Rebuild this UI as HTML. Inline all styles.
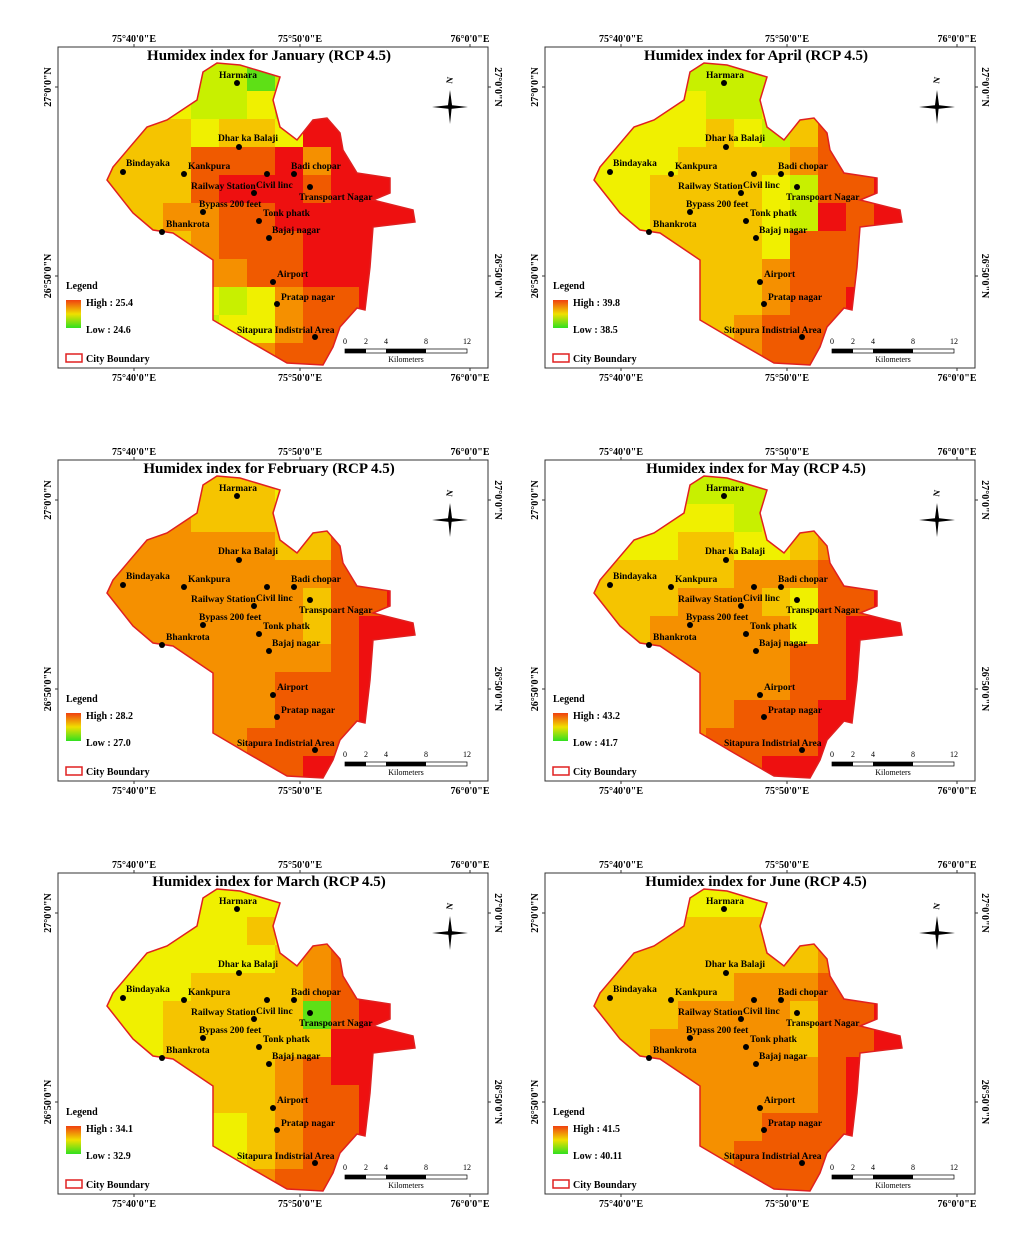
<!DOCTYPE html>
<html><head><meta charset="utf-8"><style>
body{margin:0;background:#fff;}
svg text{font-family:"Liberation Serif",serif;font-weight:bold;fill:#000;}
</style></head><body>
<svg id="fig" width="1019" height="1228" viewBox="0 0 1019 1228" xmlns="http://www.w3.org/2000/svg">
<defs>
<clipPath id="cityclip"><polygon id="bpoly" points=""/></clipPath>
<linearGradient id="leg" x1="0" y1="0" x2="0" y2="1">
<stop offset="0" stop-color="#f04010"/><stop offset="0.5" stop-color="#f0e000"/><stop offset="1" stop-color="#30e020"/></linearGradient>
</defs>
</svg>
<script>
const months=["January","April","February","May","March","June"];
const highs=["25.4","39.8","28.2","43.2","34.1","41.5"];
const lows=["24.6","38.5","27.0","41.7","32.9","40.11"];
const grids=[
["22211011222","22211211466","33323326666","33355564666","33356665666","33445566666","33345556666","33344556666","22121245566","22112245555","22222455555"],
["22211111222","22221121555","22223213556","22233334556","22333321556","22333321656","33333325556","33333345556","33333345566","33333455555","33333455555"],
["33333322444","44433333555","44444433555","44444444556","44444443556","44444443566","44444444566","44444455566","44444455566","44444555566","44444556666"],
["22211111222","22222122444","22233223455","33333444556","33344432556","33444442566","44444445566","44444445566","44444555666","44445555666","44445566666"],
["22222222222","22222322455","22222234566","22233334566","22333330566","22333333666","33333345666","33333345566","22222345566","22222345555","22222455555"],
["22222222222","33333333444","33333333455","33333444555","33344443556","33444443556","33444444566","34444444566","44444455566","44444555566","44444555566"]];
const palette=["#5ee016","#c8f000","#f0f000","#f5c400","#f59000","#f05a00","#ee1010"];
const boundary=[[203,72],[217,63],[240,65],[280,77],[273,100],[280,127],[297,140],[313,120],[327,118],[340,133],[343,150],[357,173],[390,178],[390,193],[373,200],[413,210],[415,222],[373,227],[370,267],[365,310],[357,308],[340,327],[333,347],[323,365],[287,363],[247,340],[213,320],[213,260],[173,233],[153,230],[133,213],[107,180],[113,167],[147,127],[167,120],[197,100]];
const places=[["Harmara",237,83,219,78],["Dhar ka Balaji",239,147,218,141],["Bindayaka",123,172,126,166],["Kankpura",184,174,188,169],["Railway Station",254,193,191,189],["Civil linc",267,174,256,188],["Badi chopar",294,174,291,169],["Transpoart Nagar",310,187,299,200],["Bypass 200 feet",203,212,199,207],["Tonk phatk",259,221,263,216],["Bhankrota",162,232,166,227],["Bajaj nagar",269,238,272,233],["Airport",273,282,277,277],["Pratap nagar",277,304,281,300],["Sitapura Indistrial Area",315,337,237,333]];
const xticks=["75°40'0\"E","75°50'0\"E","76°0'0\"E"];
const yticks=["27°0'0\"N","26°50'0\"N"];
const NS="http://www.w3.org/2000/svg";
const svg=document.getElementById('fig');
document.getElementById('bpoly').setAttribute('points',boundary.map(p=>p.join(',')).join(' '));
function mk(t,a,parent,txt){const e=document.createElementNS(NS,t);for(const k in a)e.setAttribute(k,a[k]);if(txt!==undefined)e.textContent=txt;parent.appendChild(e);return e;}
const xt=[134,300,470], yt=[87,276];
months.forEach((m,i)=>{
 const dx=(i%2)*487, dy=Math.floor(i/2)*413;
 const g=mk('g',{transform:`translate(${dx},${dy})`},svg);
 
 
 const fr=mk('rect',{x:58,y:47,width:430,height:321,fill:'#fff',stroke:'#333','stroke-width':1},g);
 
 xticks.forEach((t,k)=>{
  const a=mk('text',{x:xt[k],y:42,'font-size':10,'text-anchor':'middle'},g,t);
  
  const b=mk('text',{x:xt[k],y:381,'font-size':10,'text-anchor':'middle'},g,t);
  
  mk('line',{x1:xt[k],x2:xt[k],y1:44,y2:47,stroke:'#333'},g);
  mk('line',{x1:xt[k],x2:xt[k],y1:368,y2:371,stroke:'#333'},g);
 });
 yticks.forEach((t,k)=>{
  const a=mk('text',{x:0,y:0,'font-size':10,'text-anchor':'middle',transform:`translate(51,${yt[k]}) rotate(-90)`},g,t);
  
  const b=mk('text',{x:0,y:0,'font-size':10,'text-anchor':'middle',transform:`translate(495,${yt[k]}) rotate(90)`},g,t);
  
  mk('line',{x1:55,x2:58,y1:yt[k],y2:yt[k],stroke:'#333'},g);
  mk('line',{x1:488,x2:491,y1:yt[k],y2:yt[k],stroke:'#333'},g);
 });
 const ti=mk('text',{x:269,y:60,'font-size':15,'text-anchor':'middle'},g,`Humidex index for ${m} (RCP 4.5)`);
 
 const cg=mk('g',{'clip-path':'url(#cityclip)'},g);
 
 grids[i].forEach((row,r)=>{[...row].forEach((c,col)=>{
  const cell=mk('rect',{x:107+col*28,y:63+r*28,width:28.5,height:28.5,fill:palette[+c]},cg);
  
 });});
 const bd=mk('polygon',{points:boundary.map(p=>p.join(',')).join(' '),fill:'none',stroke:'#e02020','stroke-width':1.5},g);
 
 places.forEach(p=>{
  const d=mk('circle',{cx:p[1],cy:p[2],r:3,fill:'#000'},g);
  
  const t=mk('text',{x:p[3],y:p[4],'font-size':9.5},g,p[0]);
  
 });
 const na=mk('g',{},g);
 mk('polygon',{points:'450,90 452,105 450,124 448,105',fill:'#000'},na);
 mk('polygon',{points:'432,107 450,105 468,107 450,109',fill:'#000'},na);
 mk('text',{x:452,y:84,'font-size':9,transform:'rotate(-80 452 84)'},na,'N');
 const lg=mk('text',{x:66,y:289,'font-size':10},g,'Legend');
 const lb=mk('rect',{x:66,y:300,width:15,height:28,fill:'url(#leg)'},g);
 const lh=mk('text',{x:86,y:306,'font-size':10},g,'High : '+highs[i]);
 const ll=mk('text',{x:86,y:333,'font-size':10},g,'Low : '+lows[i]);
 const cb=mk('rect',{x:66,y:354,width:16,height:8,fill:'#fff',stroke:'#e02020','stroke-width':1.5},g);
 const ct=mk('text',{x:86,y:362,'font-size':10},g,'City Boundary');
 const sb=mk('g',{},g);
 [["0",345],["2",366],["4",386],["8",426],["12",467]].forEach(s=>mk('text',{x:s[1],y:344,'font-size':8,'text-anchor':'middle',style:'font-weight:normal'},sb,s[0]));
 mk('rect',{x:345,y:349,width:122,height:4,fill:'#fff',stroke:'#000','stroke-width':0.7},sb);
 mk('rect',{x:345,y:349,width:21,height:4,fill:'#000'},sb);
 mk('rect',{x:386,y:349,width:40,height:4,fill:'#000'},sb);
 mk('text',{x:406,y:362,'font-size':8,'text-anchor':'middle',style:'font-weight:normal'},sb,'Kilometers');
});
</script>
</body></html>
